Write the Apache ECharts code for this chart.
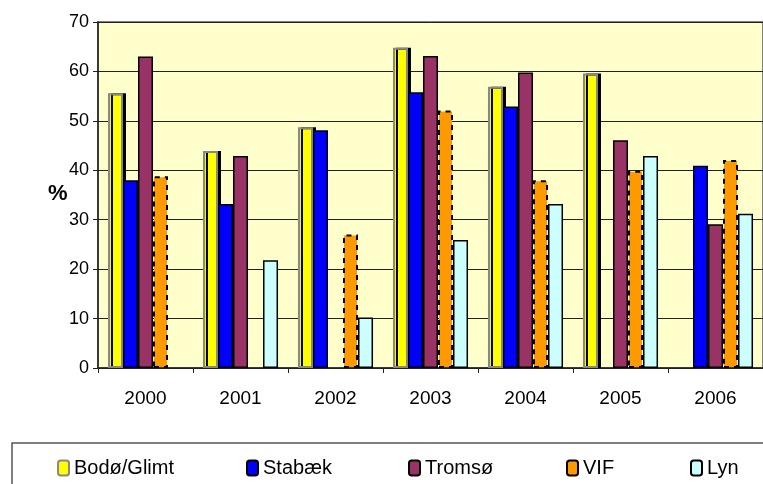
<!DOCTYPE html>
<html>
<head>
<meta charset="utf-8">
<script src="https://cdn.jsdelivr.net/npm/echarts@6/dist/echarts.min.js"></script>
<style>
  html, body { margin: 0; padding: 0; background: #fff; }
  #chart { width: 763px; height: 484px; }
</style>
</head>
<body>
<div id="chart"></div>
<script>
// years on the x axis
const years = ['2000', '2001', '2002', '2003', '2004', '2005', '2006']
// % per club, null = no bar
const bodoGlimt = [55.6, 43.9, 48.7, 64.8, 56.9, 59.6, null]
const stabaek = [38.0, 33.2, 48.1, 55.8, 52.9, null, 40.9]
const tromso = [63.0, 42.9, null, 63.1, 59.8, 46.1, 29.1]
const vif = [38.8, null, 27.0, 52.1, 38.0, 39.9, 42.1]
const lyn = [null, 21.8, 10.2, 25.9, 33.2, 42.9, 31.2]

const font = "'Liberation Sans Narrow', 'Arial Narrow', 'Liberation Sans', sans-serif"

const legendPos = [
  { name: 'Bodø/Glimt', left: 52 },
  { name: 'Stabæk', left: 241 },
  { name: 'Tromsø', left: 403 },
  { name: 'VIF', left: 561 },
  { name: 'Lyn', left: 685 }
]

let myChart = echarts.init(document.getElementById('chart'))
myChart.setOption({
  animation: false,
  grid: {
    left: 98,
    right: 0,
    top: 22,
    bottom: 116,
    show: true,
    backgroundColor: '#FFFFCC',
    borderColor: '#808080',
    borderWidth: 2
  },
  graphic: [
    {
      type: 'rect',
      shape: { x: 12, y: 443, width: 800, height: 60 },
      style: { fill: 'none', stroke: '#555', lineWidth: 1.5 },
      silent: true
    },
    {
      type: 'text',
      left: 48,
      top: 183,
      style: { text: '%', font: 'bold 22px ' + font, fill: '#000' }
    }
  ],
  legend: legendPos.map(l => ({
    data: [l.name],
    left: l.left,
    top: 453,
    itemWidth: 11,
    itemHeight: 15,
    itemGap: 5,
    textStyle: { fontFamily: font, fontSize: 20, color: '#000' }
  })),
  xAxis: {
    type: 'category',
    data: years,
    axisLine: { lineStyle: { color: '#222', width: 1.5 } },
    axisTick: { show: true, length: 5, lineStyle: { color: '#222' } },
    axisLabel: { fontFamily: font, fontSize: 19, color: '#000', margin: 21 }
  },
  yAxis: {
    type: 'value',
    min: 0,
    max: 70,
    interval: 10,
    axisLine: { show: true, lineStyle: { color: '#222', width: 1.5 } },
    axisTick: { show: true, length: 5, lineStyle: { color: '#222' } },
    axisLabel: { fontFamily: font, fontSize: 18, color: '#000', margin: 9 },
    splitLine: { lineStyle: { color: '#222', width: 1 } }
  },
  series: [
    {
      name: 'Bodø/Glimt',
      type: 'bar',
      data: bodoGlimt,
      barGap: '0%',
      barCategoryGap: '21%',
      itemStyle: {
        color: '#FFFF00',
        borderColor: '#888',
        borderWidth: 2,
        shadowColor: '#000',
        shadowOffsetX: 3,
        shadowOffsetY: 0,
        shadowBlur: 0
      }
    },
    {
      name: 'Stabæk',
      type: 'bar',
      data: stabaek,
      itemStyle: { color: '#0000FF', borderColor: '#000', borderWidth: 1.5 }
    },
    {
      name: 'Tromsø',
      type: 'bar',
      data: tromso,
      itemStyle: { color: '#993366', borderColor: '#000', borderWidth: 1.5 }
    },
    {
      name: 'VIF',
      type: 'bar',
      data: vif,
      itemStyle: { color: '#FF9900', borderColor: '#000', borderWidth: 2, borderType: [5, 5] }
    },
    {
      name: 'Lyn',
      type: 'bar',
      data: lyn,
      itemStyle: { color: '#CCFFFF', borderColor: '#000', borderWidth: 1.5 }
    }
  ]
})
</script>
</body>
</html>
